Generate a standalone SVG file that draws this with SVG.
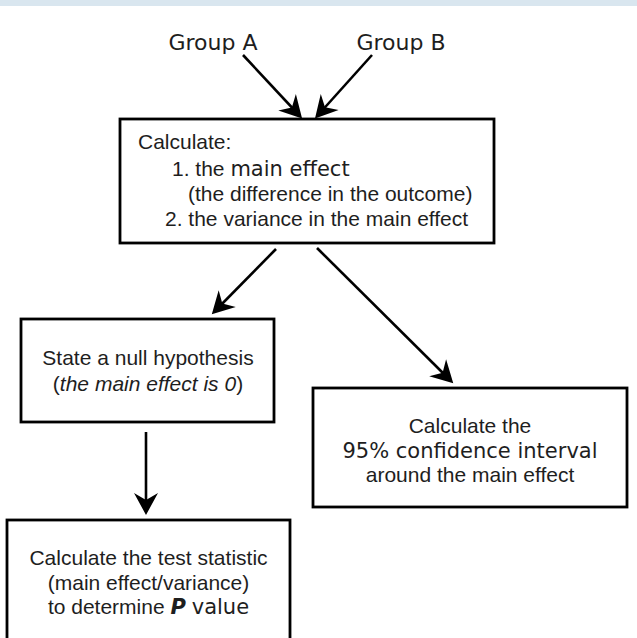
<svg xmlns="http://www.w3.org/2000/svg" width="637" height="638" viewBox="0 0 637 638">
  <defs>
    <style>
      .box { fill: #ffffff; stroke: #000000; stroke-width: 2.8; }
      .t { font-family: "Liberation Sans", Arial, Helvetica, sans-serif; font-size: 21px; fill: #1e1e1e; }
      .w { font-family: "DejaVu Sans", Verdana, sans-serif; font-size: 21px; fill: #1e1e1e; }
      .g { font-family: "DejaVu Sans", Verdana, sans-serif; font-size: 22px; fill: #1e1e1e; }
      .c { stroke: #000000; stroke-width: 2.6; fill: none; }
    </style>
    <marker id="ah" viewBox="-24 -13 26 26" refX="-6" refY="0" markerWidth="26" markerHeight="26" markerUnits="userSpaceOnUse" orient="auto">
      <path d="M0,0 L-22,-12 L-15,0 L-22,12 Z" fill="#000000"/>
    </marker>
  </defs>

  <rect x="0" y="0" width="637" height="6" fill="#d9e6ef"/>

  <g id="groupA">
    <text class="g" x="213" y="50" text-anchor="middle">Group A</text>
  </g>
  <g id="groupB">
    <text class="g" x="401" y="50" text-anchor="middle">Group B</text>
  </g>

  <g id="calculate">
    <rect class="box" x="120" y="119" width="374" height="124"/>
    <text class="t" x="138" y="149">Calculate:</text>
    <text class="t" x="172" y="176">1. the <tspan class="w">main effect</tspan></text>
    <text class="t" x="188" y="201">(the difference in the outcome)</text>
    <text class="t" x="165" y="226">2. the variance in the main effect</text>
  </g>

  <g id="null">
    <rect class="box" x="21" y="319" width="253" height="103"/>
    <text class="t" x="148" y="365" text-anchor="middle">State a null hypothesis</text>
    <text class="t" x="148" y="391" text-anchor="middle">(<tspan font-style="italic">the main effect is 0</tspan>)</text>
  </g>

  <g id="ci">
    <rect class="box" x="313" y="388" width="314" height="119"/>
    <text class="t" x="470" y="433" text-anchor="middle">Calculate the</text>
    <text class="w" x="470" y="458" text-anchor="middle" font-size="22">95% confidence interval</text>
    <text class="t" x="470" y="482" text-anchor="middle">around the main effect</text>
  </g>

  <g id="test">
    <rect class="box" x="7" y="520" width="283" height="130"/>
    <text class="t" x="148.5" y="565" text-anchor="middle">Calculate the test statistic</text>
    <text class="t" x="148.5" y="590" text-anchor="middle">(main effect/variance)</text>
    <text class="t" x="148.5" y="614" text-anchor="middle">to determine <tspan class="w" font-weight="bold" font-style="italic">P</tspan> <tspan class="w">value</tspan></text>
  </g>

  <g id="connectors">
    <line class="c" x1="243" y1="55" x2="298" y2="114" marker-end="url(#ah)"/>
    <line class="c" x1="372" y1="55" x2="319" y2="114" marker-end="url(#ah)"/>
    <line class="c" x1="276" y1="249" x2="216" y2="310" marker-end="url(#ah)"/>
    <line class="c" x1="317" y1="248" x2="449" y2="379" marker-end="url(#ah)"/>
    <line class="c" x1="146" y1="432" x2="146" y2="509" marker-end="url(#ah)"/>
  </g>
</svg>
